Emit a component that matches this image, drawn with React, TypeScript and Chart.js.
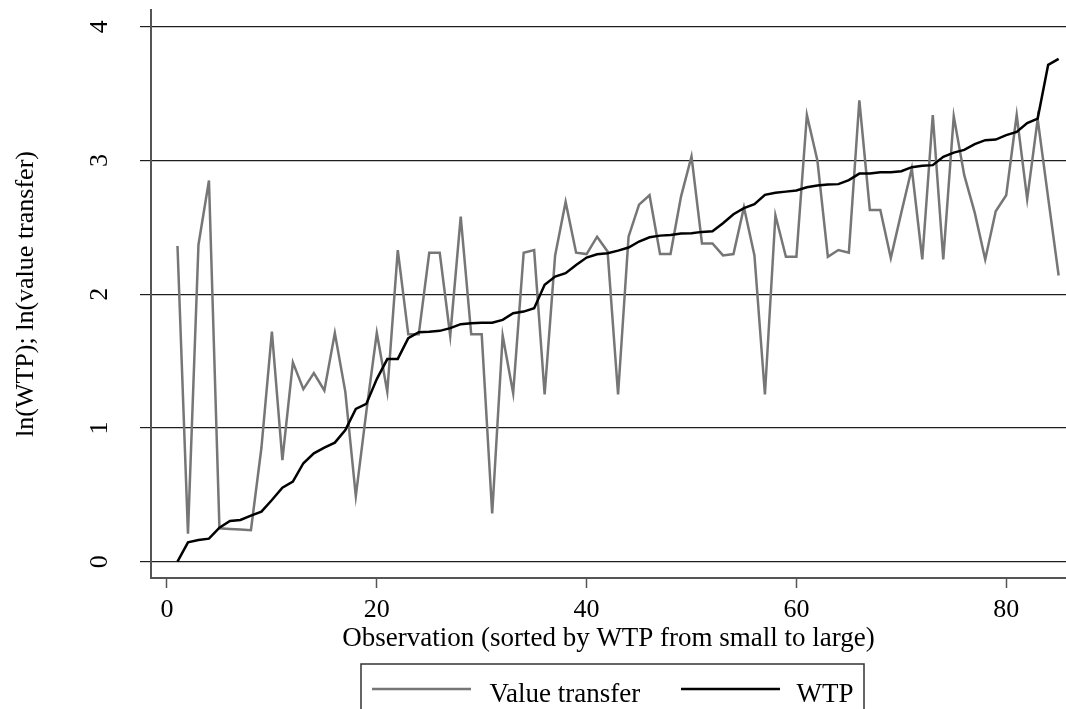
import React, { useEffect, useRef } from "react";
import { Chart, registerables } from "chart.js";

Chart.register(...registerables);

const valueTransfer: number[] = [
  2.36, 0.21, 2.37, 2.85, 0.25, 0.245, 0.24, 0.235, 0.85, 1.72,
  0.76, 1.49, 1.29, 1.41, 1.28, 1.71, 1.27, 0.49, 1.12, 1.71,
  1.27, 2.33, 1.7, 1.7, 2.31, 2.31, 1.69, 2.58, 1.7, 1.7,
  0.36, 1.69, 1.26, 2.31, 2.33, 1.25, 2.29, 2.69, 2.31, 2.3,
  2.43, 2.32, 1.25, 2.43, 2.67, 2.74, 2.3, 2.3, 2.73, 3.03,
  2.38, 2.38, 2.29, 2.3, 2.65, 2.29, 1.25, 2.59, 2.28, 2.28,
  3.34, 3.0, 2.28, 2.33, 2.31, 3.45, 2.63, 2.63, 2.27, 2.61,
  2.94, 2.26, 3.34, 2.26, 3.33, 2.89, 2.61, 2.26, 2.62, 2.74,
  3.34, 2.71, 3.31, 2.72, 2.14,
];

const wtp: number[] = [
  0.0, 0.145, 0.162, 0.172, 0.254, 0.304, 0.312, 0.344, 0.374, 0.461,
  0.553, 0.598, 0.736, 0.81, 0.853, 0.89, 0.985, 1.142, 1.18, 1.365,
  1.515, 1.516, 1.671, 1.716, 1.72, 1.726, 1.746, 1.776, 1.783, 1.786,
  1.786, 1.808, 1.858, 1.87, 1.895, 2.07, 2.132, 2.157, 2.219, 2.274,
  2.299, 2.306, 2.326, 2.349, 2.394, 2.426, 2.438, 2.443, 2.453, 2.455,
  2.466, 2.47, 2.531, 2.598, 2.643, 2.673, 2.743, 2.758, 2.767, 2.775,
  2.8, 2.812, 2.82, 2.823, 2.853, 2.902, 2.902, 2.912, 2.912, 2.92,
  2.95, 2.96, 2.965, 3.027, 3.059, 3.079, 3.122, 3.152, 3.156, 3.189,
  3.214, 3.279, 3.313, 3.715, 3.76,
];

const observations: number[] = valueTransfer.map((_, i) => i + 1);

const xTicks: number[] = [0, 20, 40, 60, 80];
const yTicks: number[] = [0, 1, 2, 3, 4];

const seriesLabels: string[] = ["Value transfer", "WTP"];
const xTitle = "Observation (sorted by WTP from small to large)";
const yTitle = "ln(WTP); ln(value transfer)";

const FONT_FAMILY = '"Liberation Serif", "Times New Roman", Times, serif';
const FONT_SIZE = 26;
const BIG_FONT_SIZE = 27;

const extrasPlugin = {
  id: "stataExtras",
  afterDraw(chart: any) {
    const ctx = chart.ctx as CanvasRenderingContext2D;
    const yScale = chart.scales.y;
    ctx.save();
    ctx.fillStyle = "#000";
    ctx.font = `${FONT_SIZE}px ${FONT_FAMILY}`;
    ctx.textAlign = "center";
    ctx.textBaseline = "middle";
    for (const v of yTicks) {
      ctx.save();
      ctx.translate(100, yScale.getPixelForValue(v));
      ctx.rotate(-Math.PI / 2);
      ctx.fillText(String(v), 0, 0);
      ctx.restore();
    }

    // legend box
    const boxL = 361;
    const boxR = 864;
    const boxT = 664;
    ctx.strokeStyle = "#333";
    ctx.lineWidth = 1.5;
    ctx.strokeRect(boxL, boxT, boxR - boxL, 80);

    const ds = chart.data.datasets;
    const items = [
      { idx: 0, x0: 372, x1: 471, tx: 489.5 },
      { idx: 1, x0: 681, x1: 780, tx: 796.5 },
    ];
    ctx.font = `${BIG_FONT_SIZE}px ${FONT_FAMILY}`;
    ctx.textAlign = "left";
    ctx.textBaseline = "alphabetic";
    for (const it of items) {
      const d = ds[it.idx];
      ctx.strokeStyle = d.borderColor;
      ctx.lineWidth = d.borderWidth;
      ctx.beginPath();
      ctx.moveTo(it.x0, 689);
      ctx.lineTo(it.x1, 689);
      ctx.stroke();
      ctx.fillStyle = "#000";
      ctx.fillText(d.label, it.tx, 701.5);
    }
    ctx.restore();
  },
};

export default function App() {
  const canvasRef = useRef<HTMLCanvasElement | null>(null);

  useEffect(() => {
    if (!canvasRef.current) return;
    const chart = new Chart(canvasRef.current, {
      type: "line",
      data: {
        datasets: [
          {
            label: seriesLabels[0],
            data: observations.map((x, i) => ({ x, y: valueTransfer[i] })),
            borderColor: "#767676",
            borderWidth: 2.5,
            pointRadius: 0,
            fill: false,
            tension: 0,
            order: 2,
          },
          {
            label: seriesLabels[1],
            data: observations.map((x, i) => ({ x, y: wtp[i] })),
            borderColor: "#000000",
            borderWidth: 2.5,
            pointRadius: 0,
            fill: false,
            tension: 0,
            order: 1,
          },
        ],
      },
      options: {
        animation: false,
        responsive: false,
        devicePixelRatio: 1,
        layout: { padding: { top: 10, right: 0, bottom: 0, left: 0 } },
        plugins: {
          legend: { display: false },
          tooltip: { enabled: false },
        },
        scales: {
          x: {
            type: "linear",
            min: -1.525,
            max: 85.7,
            afterBuildTicks: (scale: any) => {
              scale.ticks = xTicks.map((v) => ({ value: v }));
            },
            afterFit: (scale: any) => {
              scale.height = 131;
            },
            ticks: {
              autoSkip: false,
              maxRotation: 0,
              minRotation: 0,
              padding: 7,
              color: "#000",
              font: { family: FONT_FAMILY, size: FONT_SIZE },
            },
            grid: {
              drawOnChartArea: false,
              drawTicks: true,
              tickLength: 10,
              tickColor: "#555",
              tickWidth: 1.5,
            },
            border: { display: true, color: "#555", width: 2 },
            title: {
              display: true,
              text: xTitle,
              color: "#000",
              font: { family: FONT_FAMILY, size: BIG_FONT_SIZE },
              padding: { top: 0, bottom: 54 },
            },
          },
          y: {
            type: "linear",
            min: -0.122,
            max: 4.125,
            afterBuildTicks: (scale: any) => {
              scale.ticks = yTicks.map((v) => ({ value: v }));
            },
            afterFit: (scale: any) => {
              scale.width = 151;
            },
            ticks: { display: false },
            grid: {
              drawOnChartArea: true,
              drawTicks: true,
              tickLength: 11,
              color: "#1e1e1e",
              lineWidth: 1.2,
              tickColor: "#1e1e1e",
              tickWidth: 1.2,
            },
            border: { display: true, color: "#555", width: 2 },
            title: {
              display: true,
              text: yTitle,
              color: "#000",
              font: { family: FONT_FAMILY, size: FONT_SIZE },
              padding: { top: 11, bottom: 0 },
            },
          },
        },
      },
      plugins: [extrasPlugin],
    });
    return () => chart.destroy();
  }, []);

  return (
    <div
      style={{
        position: "fixed",
        left: 0,
        top: 0,
        width: 1066,
        height: 709,
        background: "#fff",
      }}
    >
      <canvas ref={canvasRef} width={1066} height={709} />
    </div>
  );
}
